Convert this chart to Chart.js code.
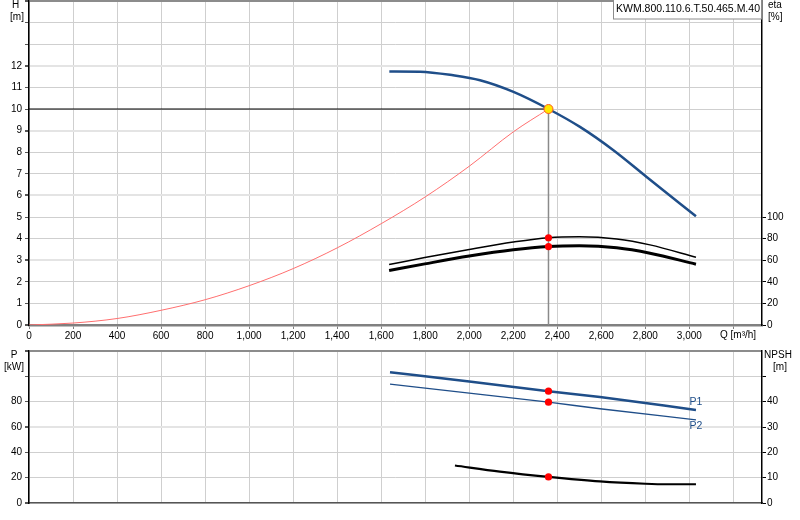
<!DOCTYPE html>
<html>
<head>
<meta charset="utf-8">
<title>KWM.800.110.6.T.50.465.M.40</title>
<script src="https://cdn.jsdelivr.net/npm/chart.js@4.4.1/dist/chart.umd.min.js"></script>
<style>
  html, body { margin: 0; padding: 0; background: #fff; }
  #wrap { position: relative; width: 800px; height: 520px; }
  canvas { position: absolute; left: 0; }
  #chartH { top: 0; }
  #chartP { top: 345px; }
</style>
</head>
<body>
<div id="wrap">
  <canvas id="chartH" width="800" height="345"></canvas>
  <canvas id="chartP" width="800" height="175"></canvas>
</div>
<script>
const pumpName = "KWM.800.110.6.T.50.465.M.40";

// duty point
const dutyQ = 2360;
const dutyH = 10;

// tick labels
const qTicks = [0, 200, 400, 600, 800, 1000, 1200, 1400, 1600, 1800, 2000, 2200, 2400, 2600, 2800, 3000, 3200];
const qMax = 3330;

// H(Q) pump curve [m]
const headQ = [1637, 1776, 1927, 2049, 2201, 2360, 2503, 2655, 2806, 3030];
const headH = [11.74, 11.73, 11.56, 11.33, 10.79, 10.0, 9.17, 8.09, 6.85, 5.03];

// system curve [m]
const sysQ = [0, 200, 400, 600, 800, 1000, 1200, 1400, 1600, 1800, 2000, 2200, 2360];
const sysH = [0, 0.09, 0.3, 0.68, 1.17, 1.82, 2.61, 3.57, 4.69, 5.93, 7.35, 8.94, 10.0];

// efficiency [%]
const etaQ = [1636, 1798, 2000, 2200, 2360, 2500, 2670, 2821, 3030];
const eta1 = [56.0, 62.5, 70.0, 76.8, 80.8, 81.6, 79.6, 74.2, 62.7];
const eta2 = [50.5, 56.6, 63.8, 69.6, 72.6, 73.3, 71.5, 66.5, 56.3];

// power [kW]
const powerQ = [1640, 2000, 2360, 2594, 3030];
const powerP1 = [103.3, 96.0, 88.3, 83.6, 73.5];
const powerP2 = [93.8, 86.8, 79.6, 74.4, 65.6];

// NPSH [m]
const npshQ = [1935, 2139, 2360, 2594, 2800, 2897, 3030];
const npshM = [14.8, 12.4, 10.3, 8.5, 7.6, 7.4, 7.4];

const pts = (xs, ys) => xs.map((x, i) => ({ x: x, y: ys[i] }));
const at = (xs, ys, q) => ys[xs.indexOf(q)];

const tickFont = { family: "Arial, 'Liberation Sans', sans-serif", size: 10 };
const gridGray = "#cfcfcf";

function noPad(scale) {
  scale.paddingTop = 0;
  scale.paddingBottom = 0;
  scale.paddingLeft = 0;
  scale.paddingRight = 0;
}

function xScale(showLabels) {
  return {
    type: "linear",
    min: 0,
    max: qMax,
    afterBuildTicks: s => { s.ticks = qTicks.map(v => ({ value: v })); },
    ticks: {
      display: showLabels,
      font: tickFont,
      color: "#000",
      padding: 1,
      maxRotation: 0,
      autoSkip: false,
      callback: v => (v === 3200 ? "" : v.toLocaleString("en-US"))
    },
    grid: { color: gridGray, lineWidth: 1, tickLength: showLabels ? 4 : 0, tickColor: "#808080" },
    border: { color: showLabels ? "#808080" : "#555", width: showLabels ? 2.5 : 1.5 },
    afterFit: s => { s.height = showLabels ? 20 : 17; noPad(s); }
  };
}

function leftScale(max, step, lastLabel, thickEvery) {
  return {
    position: "left",
    min: 0,
    max: max,
    ticks: {
      stepSize: step,
      font: tickFont,
      color: "#000",
      padding: 3,
      callback: v => (v <= lastLabel ? v : "")
    },
    grid: {
      color: c => (c.tick.value === max ? "#8c8c8c" : (c.tick.value % thickEvery === 0 ? "#e4e4e4" : gridGray)),
      lineWidth: c => (c.tick.value === max ? 2 : (c.tick.value % thickEvery === 0 ? 2 : 1)),
      tickLength: 4,
      tickColor: "#555"
    },
    border: { color: "#000", width: 1.5 },
    afterFit: s => { s.width = 29; noPad(s); }
  };
}

function rightScale(max, step, lastLabel, lastTick) {
  return {
    position: "right",
    min: 0,
    max: max,
    ticks: {
      stepSize: step,
      font: tickFont,
      color: "#000",
      padding: 1,
      callback: v => (v <= lastLabel ? v : "")
    },
    grid: {
      drawOnChartArea: false,
      tickLength: 4,
      tickColor: c => (c.tick.value <= lastTick ? "#000" : "rgba(0,0,0,0)")
    },
    border: { color: "#000", width: 1.5 },
    afterFit: s => { s.width = 38; noPad(s); }
  };
}

function drawTexts(ctx, items) {
  ctx.save();
  ctx.textBaseline = "middle";
  items.forEach(t => {
    ctx.font = (t.size || 10) + "px Arial, 'Liberation Sans', sans-serif";
    ctx.fillStyle = t.color || "#000";
    ctx.textAlign = t.align || "center";
    ctx.fillText(t.text, t.x, t.y);
  });
  ctx.restore();
}

const topTexts = {
  id: "topTexts",
  afterDraw(chart) {
    const ctx = chart.ctx;
    // model name box
    ctx.save();
    ctx.fillStyle = "#fff";
    ctx.fillRect(613, 0, 148, 19);
    ctx.strokeStyle = "#8c8c8c";
    ctx.lineWidth = 1;
    ctx.strokeRect(613.5, -0.5, 148, 19.5);
    ctx.restore();
    drawTexts(ctx, [
      { text: pumpName, x: 616, y: 9, align: "left", size: 10.5 },
      { text: "H", x: 15.5, y: 5 },
      { text: "[m]", x: 17, y: 17.5 },
      { text: "eta", x: 768, y: 5, align: "left" },
      { text: "[%]", x: 768, y: 17.5, align: "left" },
      { text: "Q [m\u00b3/h]", x: 720, y: 335.5, align: "left" }
    ]);
  }
};

const bottomTexts = {
  id: "bottomTexts",
  afterDraw(chart) {
    const x = chart.scales.x;
    const y = chart.scales.y;
    const lastQ = powerQ[powerQ.length - 1];
    drawTexts(chart.ctx, [
      { text: "P", x: 14, y: 10 },
      { text: "[kW]", x: 14, y: 22 },
      { text: "NPSH", x: 778, y: 10.5 },
      { text: "[m]", x: 780, y: 22.5 },
      { text: "P1", x: x.getPixelForValue(lastQ), y: y.getPixelForValue(powerP1[powerP1.length - 1]) - 8, color: "#1f4e89", size: 10.5 },
      { text: "P2", x: x.getPixelForValue(lastQ), y: y.getPixelForValue(powerP2[powerP2.length - 1]) + 6, color: "#1f4e89", size: 10.5 }
    ]);
  }
};

const lineBase = { showLine: true, pointRadius: 0, pointHoverRadius: 0, cubicInterpolationMode: "monotone", fill: false };

new Chart(document.getElementById("chartH"), {
  type: "scatter",
  data: {
    datasets: [
      { ...lineBase, order: 0, data: [{ x: dutyQ, y: dutyH }], showLine: false, pointRadius: 4.5, backgroundColor: "#ffe800", borderColor: "#ff5a1f", borderWidth: 1, yAxisID: "y" },
      { ...lineBase, order: 1, data: [{ x: dutyQ, y: at(etaQ, eta1, dutyQ) }, { x: dutyQ, y: at(etaQ, eta2, dutyQ) }], showLine: false, pointRadius: 3.6, backgroundColor: "#ff0000", borderColor: "#ff0000", borderWidth: 0, yAxisID: "y2" },
      { ...lineBase, order: 2, data: pts(headQ, headH), borderColor: "#1f4e89", borderWidth: 2.5, yAxisID: "y" },
      { ...lineBase, order: 3, data: pts(sysQ, sysH), borderColor: "#ff6f6f", borderWidth: 1, yAxisID: "y" },
      { ...lineBase, order: 4, data: pts(etaQ, eta1), borderColor: "#000", borderWidth: 1.5, yAxisID: "y2" },
      { ...lineBase, order: 5, data: pts(etaQ, eta2), borderColor: "#000", borderWidth: 3, yAxisID: "y2" },
      { ...lineBase, order: 6, data: [{ x: 0, y: dutyH }, { x: dutyQ, y: dutyH }], borderColor: "#000", borderWidth: 1.2, yAxisID: "y" },
      { ...lineBase, order: 7, data: [{ x: dutyQ, y: 0 }, { x: dutyQ, y: dutyH }], borderColor: "#8a8a8a", borderWidth: 1.5, yAxisID: "y" }
    ]
  },
  options: {
    responsive: false,
    animation: false,
    events: [],
    layout: { autoPadding: false, padding: { top: 1, left: 0, right: 0, bottom: 0 } },
    plugins: { legend: { display: false }, tooltip: { enabled: false } },
    scales: {
      x: xScale(true),
      y: leftScale(15, 1, 12, 3),
      y2: rightScale(300, 20, 100, 100)
    }
  },
  plugins: [topTexts]
});

new Chart(document.getElementById("chartP"), {
  type: "scatter",
  data: {
    datasets: [
      { ...lineBase, order: 0, data: [{ x: dutyQ, y: at(powerQ, powerP1, dutyQ) }, { x: dutyQ, y: at(powerQ, powerP2, dutyQ) }], showLine: false, pointRadius: 3.6, backgroundColor: "#ff0000", borderWidth: 0, yAxisID: "y" },
      { ...lineBase, order: 0, data: [{ x: dutyQ, y: at(npshQ, npshM, dutyQ) }], showLine: false, pointRadius: 3.6, backgroundColor: "#ff0000", borderWidth: 0, yAxisID: "y2" },
      { ...lineBase, order: 1, data: pts(powerQ, powerP1), borderColor: "#1f4e89", borderWidth: 2.5, yAxisID: "y" },
      { ...lineBase, order: 2, data: pts(powerQ, powerP2), borderColor: "#1f4e89", borderWidth: 1.3, yAxisID: "y" },
      { ...lineBase, order: 3, data: pts(npshQ, npshM), borderColor: "#000", borderWidth: 2.2, yAxisID: "y2" }
    ]
  },
  options: {
    responsive: false,
    animation: false,
    events: [],
    layout: { autoPadding: false, padding: { top: 6, left: 0, right: 0, bottom: 0 } },
    plugins: { legend: { display: false }, tooltip: { enabled: false } },
    scales: {
      x: xScale(false),
      y: leftScale(120, 20, 80, 60),
      y2: rightScale(60, 10, 40, 50)
    }
  },
  plugins: [bottomTexts]
});
</script>
</body>
</html>
